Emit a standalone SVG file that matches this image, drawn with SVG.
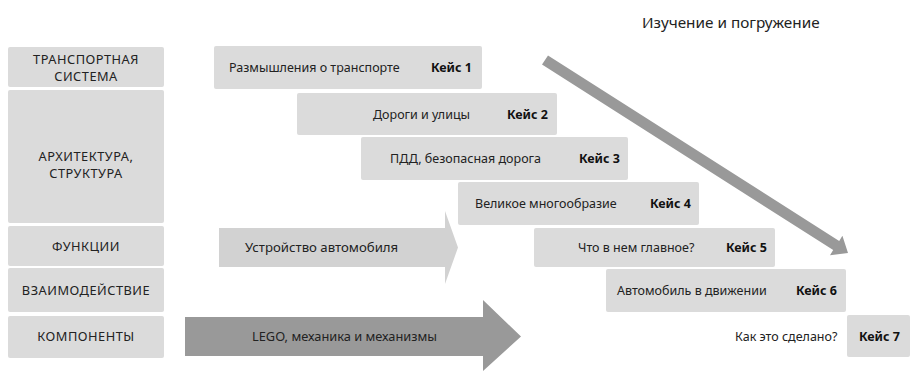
<svg xmlns="http://www.w3.org/2000/svg" width="910" height="371" viewBox="0 0 910 371">
<style>
.box{fill:#dbdbdb}
.lab{font-family:"Noto Sans","Liberation Sans",sans-serif;font-size:12.8px;letter-spacing:0.5px;fill:#222;text-anchor:middle}
.t{font-family:"Noto Sans","Liberation Sans",sans-serif;font-size:12.5px;fill:#222}
.k{font-family:"Noto Sans","Liberation Sans",sans-serif;font-size:12.5px;font-weight:bold;fill:#111;text-anchor:end}
</style>
<rect width="910" height="371" fill="#fff"/>
<text class="t" x="642" y="28" style="font-size:15.3px">Изучение и погружение</text>
<g id="row1"><rect class="box" x="8" y="47" width="156" height="40" rx="2"/><text class="lab" x="86" y="63.5">ТРАНСПОРТНАЯ</text><text class="lab" x="86" y="81">СИСТЕМА</text></g>
<g id="row2"><rect class="box" x="8" y="90" width="156" height="133" rx="2"/><text class="lab" x="86" y="160.5">АРХИТЕКТУРА,</text><text class="lab" x="86" y="178">СТРУКТУРА</text></g>
<g id="row3"><rect class="box" x="8" y="226" width="156" height="40" rx="2"/><text class="lab" x="86" y="251">ФУНКЦИИ</text></g>
<g id="row4"><rect class="box" x="8" y="268" width="156" height="44" rx="2"/><text class="lab" x="86" y="295">ВЗАИМОДЕЙСТВИЕ</text></g>
<g id="row5"><rect class="box" x="8" y="316" width="156" height="42" rx="2"/><text class="lab" x="86" y="341">КОМПОНЕНТЫ</text></g>
<g id="connectors">
<polygon points="219,228 445,228 445,211 458,247.5 445,284 445,267 219,267" fill="#d2d2d2"/>
<polygon points="185,317 483,317 483,300 521,336.5 483,371 483,356 185,356" fill="#999"/>
<polygon points="548,55.4 839.2,240.9 842.4,235.8 848,253 830,255.2 833.2,250.1 542,64.6" fill="#999"/>
</g>
<g id="arrow1label"><text class="t" x="245" y="252" style="font-size:13.2px">Устройство автомобиля</text></g>
<g id="arrow2label"><text class="t" x="252" y="341" style="font-size:12.8px">LEGO, механика и механизмы</text></g>
<g id="case1"><rect class="box" x="214" y="46" width="268" height="43" rx="2"/><text class="t" x="229" y="72">Размышления о транспорте</text><text class="k" x="472" y="72">Кейс 1</text></g>
<g id="case2"><rect class="box" x="297" y="93" width="260" height="42" rx="2"/><text class="t" x="373" y="118.5">Дороги и улицы</text><text class="k" x="548" y="118.5">Кейс 2</text></g>
<g id="case3"><rect class="box" x="361" y="137" width="267" height="43" rx="2"/><text class="t" x="390" y="163">ПДД, безопасная дорога</text><text class="k" x="620" y="163">Кейс 3</text></g>
<g id="case4"><rect class="box" x="458" y="182" width="241" height="43" rx="2"/><text class="t" x="475" y="208">Великое многообразие</text><text class="k" x="691" y="208">Кейс 4</text></g>
<g id="case5"><rect class="box" x="534" y="228" width="241" height="39" rx="2"/><text class="t" x="578" y="252">Что в нем главное?</text><text class="k" x="767" y="252">Кейс 5</text></g>
<g id="case6"><rect class="box" x="606" y="269" width="240" height="43" rx="2"/><text class="t" x="617" y="295">Автомобиль в движении</text><text class="k" x="837" y="295">Кейс 6</text></g>
<g id="case7"><rect class="box" x="847" y="315" width="63" height="42" rx="2"/><text class="t" x="735" y="340.5">Как это сделано?</text><text class="k" x="900" y="340.5">Кейс 7</text></g>
</svg>
